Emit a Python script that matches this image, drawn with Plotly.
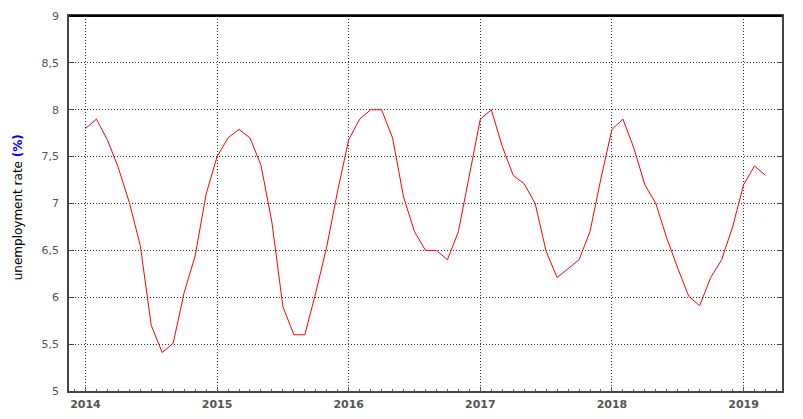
import plotly.graph_objects as go

start_year = 2014
values = [
    7.80, 7.90, 7.68, 7.38, 7.01, 6.55, 5.70, 5.41, 5.51, 6.05, 6.44, 7.10,
    7.50, 7.70, 7.79, 7.70, 7.41, 6.80, 5.90, 5.60, 5.60, 6.05, 6.54, 7.14,
    7.68, 7.90, 8.00, 8.00, 7.70, 7.07, 6.70, 6.50, 6.50, 6.40, 6.70, 7.29,
    7.90, 8.00, 7.61, 7.30, 7.21, 7.00, 6.49, 6.21, 6.31, 6.40, 6.70, 7.27,
    7.79, 7.90, 7.59, 7.20, 7.00, 6.63, 6.31, 6.01, 5.91, 6.21, 6.40, 6.75,
    7.20, 7.40, 7.30,
]
year_ticks = [2014, 2015, 2016, 2017, 2018, 2019]
y_ticks = [5, 5.5, 6, 6.5, 7, 7.5, 8, 8.5, 9]
y_tick_text = [("%g" % v).replace(".", ",") for v in y_ticks]

x = [start_year + i / 12 for i in range(len(values))]

fig = go.Figure()
fig.add_trace(go.Scatter(x=x, y=values, mode="lines",
                         line=dict(color="#ff0000", width=1), showlegend=False))

tick_font = dict(family="DejaVu Sans", size=11, color="#555555")
grid_dash = "1px,2px"
fig.update_layout(
    width=795, height=411,
    margin=dict(l=61, r=21, t=8, b=28),
    paper_bgcolor="white", plot_bgcolor="white",
    xaxis=dict(
        range=[2013.875, 2019.292], automargin=False,
        tickvals=year_ticks, ticktext=[str(v) for v in year_ticks],
        tickfont=dict(family="DejaVu Sans", size=11, color="#555555", weight="bold"),
        showgrid=True, gridcolor="#333333", griddash=grid_dash, gridwidth=1,
        showline=True, linecolor="#444444", linewidth=1.5, mirror=True,
        ticks="inside", ticklen=4, tickcolor="#555555",
        ticklabelstandoff=2,
        minor=dict(dtick=1/12, tick0=2014, ticks="inside", ticklen=2,
                   tickcolor="#666666", showgrid=False),
        zeroline=False,
    ),
    yaxis=dict(
        range=[5, 9], automargin=False,
        tickvals=y_ticks, ticktext=y_tick_text,
        tickfont=tick_font,
        showgrid=True, gridcolor="#333333", griddash=grid_dash, gridwidth=1,
        showline=True, linecolor="#444444", linewidth=1.5, mirror="ticks",
        ticks="inside", ticklen=5, tickcolor="#444444",
        ticklabelstandoff=6,
        zeroline=False,
    ),
    shapes=[dict(type="line", xref="paper", yref="paper", x0=0, x1=1, y0=1, y1=1,
                 line=dict(color="#000000", width=2))],
    annotations=[dict(
        text="unemployment rate <span style='color:#0000ff'><b>(%)</b></span>",
        xref="paper", yref="paper", x=-0.0715, y=0.49,
        xanchor="center", yanchor="middle", textangle=-90, showarrow=False,
        font=dict(family="DejaVu Sans", size=12, color="#000000"),
    )],
)

fig.write_html("out.html")
